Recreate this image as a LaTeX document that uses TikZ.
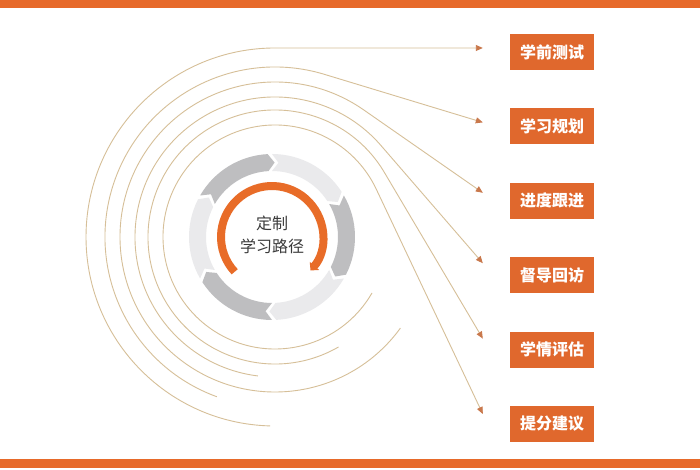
\documentclass[tikz,border=0pt]{standalone}
\usepackage{fontspec}
\newfontfamily\cjk{Noto Sans CJK SC}
\usetikzlibrary{arrows.meta,positioning}
\definecolor{barorange}{RGB}{231,106,42}
\definecolor{boxorange}{RGB}{224,104,45}
\definecolor{arcorange}{RGB}{232,108,40}
\definecolor{ringdark}{RGB}{190,190,192}
\definecolor{ringlight}{RGB}{234,234,236}
\definecolor{spiralc}{RGB}{214,191,152}
\definecolor{tipc}{RGB}{201,120,76}
\definecolor{textgray}{RGB}{58,58,58}

\begin{document}
\begin{tikzpicture}[x=1pt,y=1pt,
  box/.style={fill=boxorange, text=white, minimum width=84pt, minimum height=36pt,
    inner sep=0pt, font=\cjk\bfseries\fontsize{16}{16}\selectfont},
  centre/.style={align=center, text=textgray, font=\cjk\fontsize{16}{23}\selectfont},
  spiral/.style={draw=spiralc, line width=0.9pt, -{Triangle[length=7pt,width=6pt,color=tipc]}},
  segdark/.style={fill=ringdark},
  seglight/.style={fill=ringlight},
  pathorange/.style={draw=arcorange, line width=8pt, -{Triangle[length=6pt,width=12pt]}}]
\useasboundingbox [fill=white] (0,0) rectangle (700,470);
% bars
\fill [barorange] (0,462) rectangle (700,470);
\fill [barorange] (0,2) rectangle (700,11);
% boxes
\node [box] (b1) at (552,418) {学前测试};
\node [box, below=38pt of b1] (b2) {学习规划};
\node [box, below=38pt of b2] (b3) {进度跟进};
\node [box, below=38pt of b3] (b4) {督导回访};
\node [box, below=38pt of b4] (b5) {学情评估};
\node [box, below=38pt of b5] (b6) {提分建议};
\coordinate (e1) at ([xshift=-27pt,yshift=4pt]b1.west);
\coordinate (e2) at ([xshift=-27pt,yshift=4pt]b2.west);
\coordinate (e3) at ([xshift=-27pt,yshift=8pt]b3.west);
\coordinate (e4) at ([xshift=-27pt,yshift=12pt]b4.west);
\coordinate (e5) at ([xshift=-27pt,yshift=11pt]b5.west);
\coordinate (e6) at ([xshift=-27pt,yshift=10pt]b6.west);
% ring
\coordinate (ring) at (272,233);
\begin{scope}[shift={(ring)}]
\fill [segdark] (150:83) arc[start angle=150, end angle=93, radius=83] -- (88:74.5) -- (93:66) arc[start angle=93, end angle=150, radius=66] -- (145:74.5) -- cycle;
\fill [seglight] (90:83) arc[start angle=90, end angle=33, radius=83] -- (28:74.5) -- (33:66) arc[start angle=33, end angle=90, radius=66] -- (85:74.5) -- cycle;
\fill [segdark] (30:83) arc[start angle=30, end angle=-27, radius=83] -- (-32:74.5) -- (-27:66) arc[start angle=-27, end angle=30, radius=66] -- (25:74.5) -- cycle;
\fill [seglight] (-30:83) arc[start angle=-30, end angle=-87, radius=83] -- (-92:74.5) -- (-87:66) arc[start angle=-87, end angle=-30, radius=66] -- (-35:74.5) -- cycle;
\fill [segdark] (-90:83) arc[start angle=-90, end angle=-147, radius=83] -- (-152:74.5) -- (-147:66) arc[start angle=-147, end angle=-90, radius=66] -- (-95:74.5) -- cycle;
\fill [seglight] (-150:83) arc[start angle=-150, end angle=-207, radius=83] -- (-212:74.5) -- (-207:66) arc[start angle=-207, end angle=-150, radius=66] -- (-155:74.5) -- cycle;
\draw [pathorange] (223:51) arc[start angle=223, end angle=-41, radius=51];
\end{scope}
\node [centre] (title) at (272,235) {定制\\学习路径};
% spiral lines
\coordinate (c) at (275,233);
\coordinate (s1) at ([shift={(268.5:189)}]c);
\coordinate (s2) at ([shift={(250:170)}]c);
\coordinate (s3) at ([shift={(324:155)}]c);
\coordinate (s4) at ([shift={(263:140)}]c);
\coordinate (s5) at ([shift={(300:127)}]c);
\coordinate (s6) at ([shift={(330:112)}]c);
\draw [spiral] (s1) arc[start angle=268.5, end angle=90, radius=189] -- (e1);
\draw [spiral] (s2) arc[start angle=250, end angle=73.6, radius=170] -- (e2);
\draw [spiral] (s3) arc[start angle=324, end angle=55.5, radius=155] -- (e3);
\draw [spiral] (s4) arc[start angle=263, end angle=41.2, radius=140] -- (e4);
\draw [spiral] (s5) arc[start angle=300, end angle=30.9, radius=127] -- (e5);
\draw [spiral] (s6) arc[start angle=330, end angle=25.6, radius=112] -- (e6);
\end{tikzpicture}
\end{document}
